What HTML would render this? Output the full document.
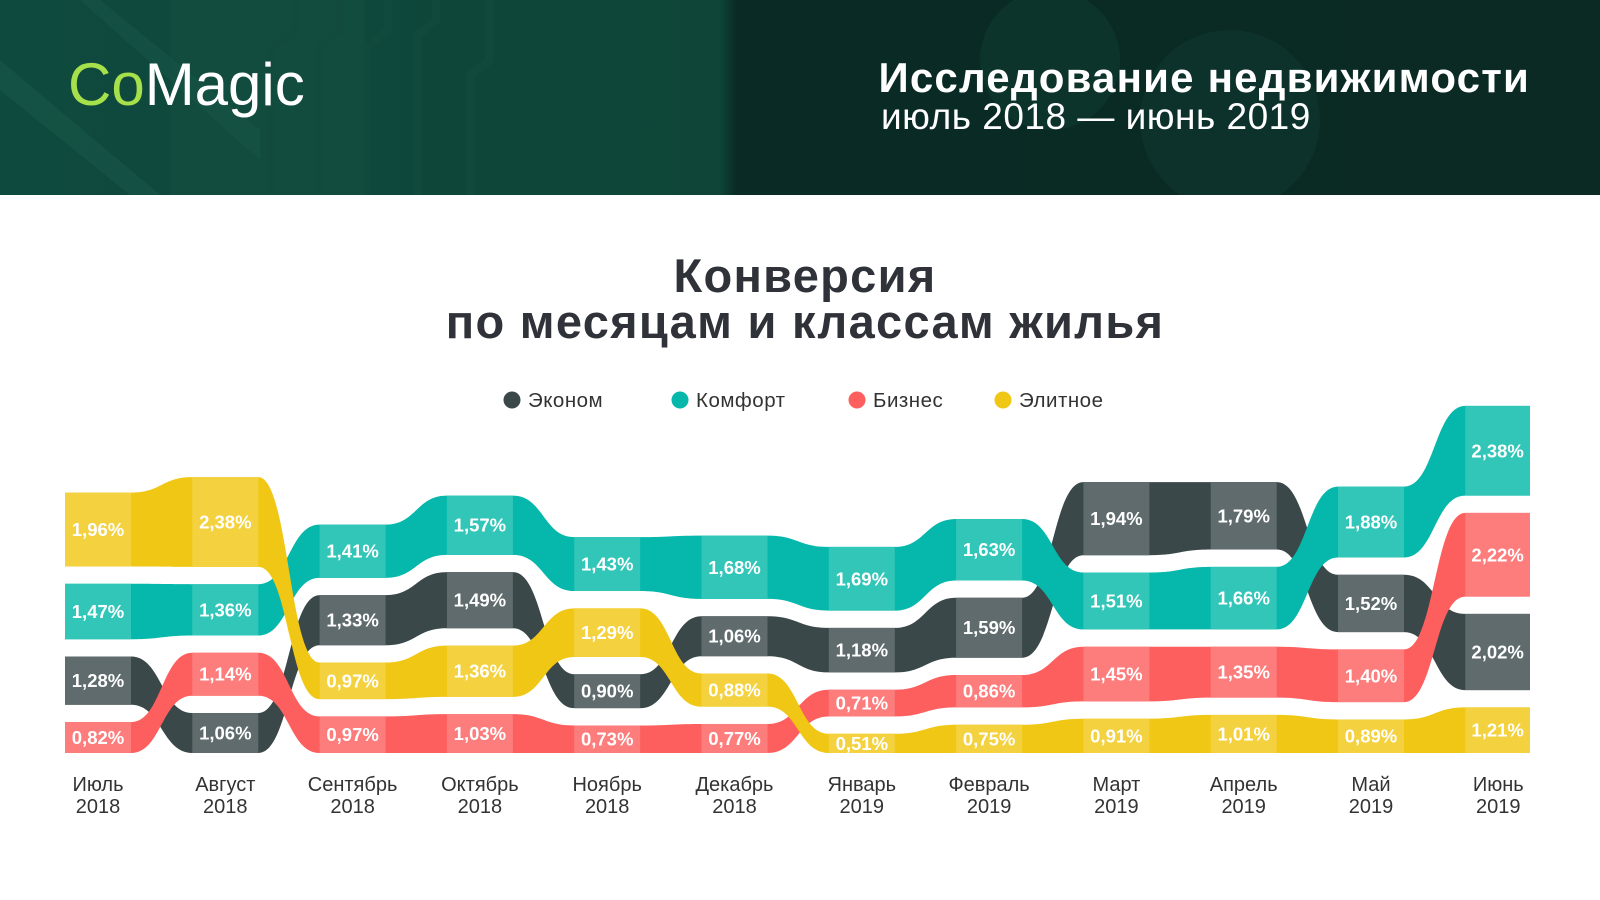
<!DOCTYPE html>
<html><head><meta charset="utf-8">
<style>
html,body{margin:0;padding:0;width:1600px;height:900px;overflow:hidden;background:#fff;font-family:"Liberation Sans",sans-serif}
#hdr{position:absolute;left:0;top:0;width:1600px;height:195px;background:linear-gradient(90deg,#0f4a3e 0%,#0e4538 45%,#0a2b25 46%,#0b2a24 100%);overflow:hidden}
.logo{position:absolute;left:68px;top:50px;font-size:60px;letter-spacing:0px;color:#fff;font-weight:400}
.logo span{color:#a6e04a}
.t1{position:absolute;right:70px;top:54px;font-size:42px;letter-spacing:1.2px;font-weight:bold;color:#fff;white-space:nowrap}
.t2{position:absolute;left:881px;top:96px;font-size:37px;letter-spacing:0.5px;color:#fff;white-space:nowrap}
.title{position:absolute;left:0;width:1610px;text-align:center;font-weight:bold;color:#2f3238;font-size:47px;letter-spacing:1.3px;line-height:46px;top:253px}
</style></head><body>
<div id="hdr">
<svg width="1600" height="195" style="position:absolute;left:0;top:0">
<rect x="170" y="0" width="195" height="195" fill="#134f42" opacity="0.5"/>
<path d="M0 60 L160 195 L130 195 L0 90Z" fill="#1a5a4b" opacity="0.5"/>
<path d="M100 0 L260 130 L260 160 L80 0Z" fill="#1a5a4b" opacity="0.4"/>
<g stroke="#144a3e" stroke-width="8" fill="none" opacity="0.8">
<path d="M296 0 V30 L270 50 V195"/><path d="M340 0 V30 L318 48 V195"/><path d="M388 0 V30 L366 48 V195"/><path d="M436 0 V20 L418 35 V195"/><path d="M490 0 V60 L470 75 V195"/>
</g>
<circle cx="1050" cy="60" r="70" fill="#0e3a31" opacity="0.6"/>
<circle cx="1230" cy="120" r="90" fill="#0e3a31" opacity="0.5"/>
</svg>
<div class="logo"><span>Co</span>Magic</div>
<div class="t1">Исследование недвижимости</div>
<div class="t2">июль 2018 — июнь 2019</div>
</div>
<div class="title">Конверсия<br>по месяцам и классам жилья</div>
<svg id="chart" width="1600" height="900" style="position:absolute;left:0;top:0"></svg>
<script>
const months = ["Июль","Август","Сентябрь","Октябрь","Ноябрь","Декабрь","Январь","Февраль","Март","Апрель","Май","Июнь"];
const years = ["2018","2018","2018","2018","2018","2018","2019","2019","2019","2019","2019","2019"];
const seriesNames = ["Эконом","Комфорт","Бизнес","Элитное"];
const econom = [1.28,1.06,1.33,1.49,0.90,1.06,1.18,1.59,1.94,1.79,1.52,2.02];
const komfort = [1.47,1.36,1.41,1.57,1.43,1.68,1.69,1.63,1.51,1.66,1.88,2.38];
const biznes = [0.82,1.14,0.97,1.03,0.73,0.77,0.71,0.86,1.45,1.35,1.40,2.22];
const elitnoe = [1.96,2.38,0.97,1.36,1.29,0.88,0.51,0.75,0.91,1.01,0.89,1.21];

const NS="http://www.w3.org/2000/svg";
const svg=document.getElementById('chart');
const data=[econom,komfort,biznes,elitnoe];
const dark=["#3a4849","#06b8ab","#fd5f5f","#f0c714"];
const light=["#5f6b6c","#32c6b9","#fd7c7c","#f3d13f"];
const keys=["econom","komfort","biznes","elitnoe"];
const X0=98, STEP=127.3, CW=66, SCALE=37.7, GAP=17.3, BASE=753, LEFT=65, RIGHT=1530;
function xc(i){return X0+i*STEP;}
function yScale(v){return v*SCALE;}
const pos=data.map(()=>[]);
for(let i=0;i<months.length;i++){
  const idx=[0,1,2,3].sort((a,b)=>data[a][i]-data[b][i]||a-b);
  let b=BASE;
  idx.forEach(s=>{const t=b-yScale(data[s][i]);pos[s][i]={t:t,b:b};b=t-GAP;});
}
function mk(tag,attrs){const e=document.createElementNS(NS,tag);for(const k in attrs)e.setAttribute(k,attrs[k]);return e;}
const n=months.length;
function lx(i){return i===0?LEFT:xc(i)-CW/2;}
function rx(i){return i===n-1?RIGHT:xc(i)+CW/2;}
data.forEach((arr,s)=>{
  const p=pos[s];
  let d="M"+lx(0)+" "+p[0].t;
  for(let i=0;i<n;i++){
    d+=" L"+rx(i)+" "+p[i].t;
    if(i<n-1){const a=rx(i),b=lx(i+1),m=(a+b)/2;d+=" C"+m+" "+p[i].t+" "+m+" "+p[i+1].t+" "+b+" "+p[i+1].t;}
  }
  d+=" L"+rx(n-1)+" "+p[n-1].b;
  for(let i=n-1;i>=0;i--){
    d+=" L"+lx(i)+" "+p[i].b;
    if(i>0){const a=lx(i),b=rx(i-1),m=(a+b)/2;d+=" C"+m+" "+p[i].b+" "+m+" "+p[i-1].b+" "+b+" "+p[i-1].b;}
  }
  d+="Z";
  const path=mk('path',{d:d,fill:dark[s]});
  
  
  svg.appendChild(path);
});
data.forEach((arr,s)=>{
  for(let i=0;i<n;i++){
    const p=pos[s][i];
    const cx=xc(i), x=i===0?LEFT:cx-CW/2, w=i===n-1?RIGHT-x:cx+CW/2-x;
    const r=mk('rect',{x:x,y:p.t,width:w,height:p.b-p.t,fill:light[s]});
    
    
    svg.appendChild(r);
    const t=mk('text',{x:x+w/2,y:(p.t+p.b)/2+6.5,'text-anchor':'middle','font-size':'18.5','font-weight':'bold',fill:'#fff','font-family':'Liberation Sans, sans-serif'});
    t.textContent=arr[i].toFixed(2).replace('.',',')+'%';
    
    
    svg.appendChild(t);
  }
});
for(let i=0;i<n;i++){
  [months[i],years[i]].forEach((s,k)=>{
    const t=mk('text',{x:xc(i),y:791+k*22,'text-anchor':'middle','font-size':'20',fill:'#333','font-family':'Liberation Sans, sans-serif'});
    t.textContent=s;
    
    
    svg.appendChild(t);
  });
}
const legX=[512,680,857,1003];
seriesNames.forEach((nm,s)=>{
  const g=mk('g',{});
  
  
  g.appendChild(mk('circle',{cx:legX[s],cy:400,r:8.5,fill:dark[s]}));
  const t=mk('text',{x:legX[s]+16,y:407,'font-size':'20.5','letter-spacing':'0.5',fill:'#333','font-family':'Liberation Sans, sans-serif'});
  t.textContent=nm;
  g.appendChild(t);
  svg.appendChild(g);
});
</script>
</body></html>
